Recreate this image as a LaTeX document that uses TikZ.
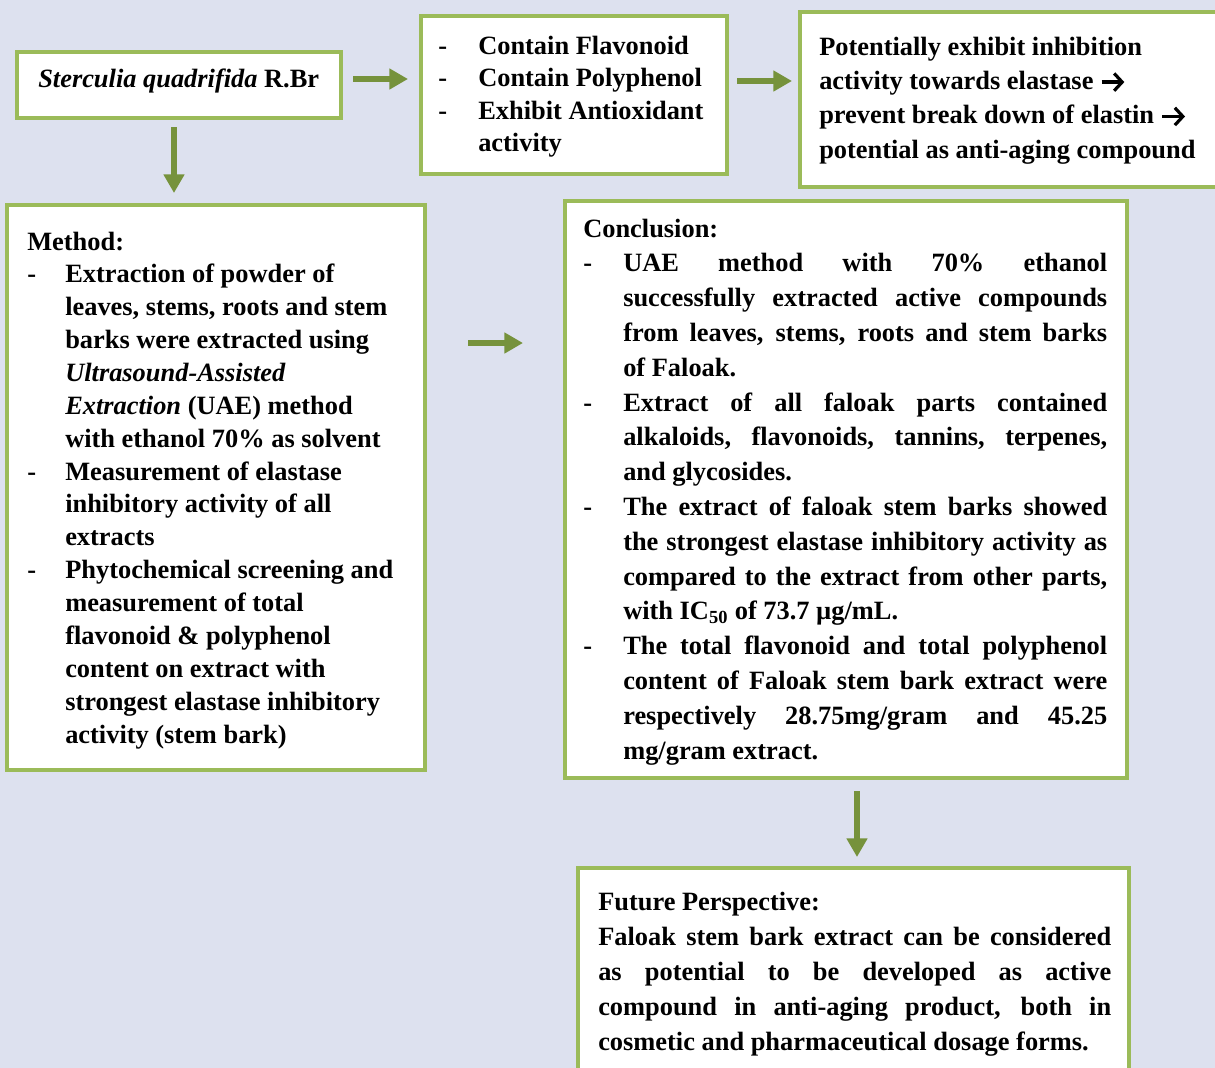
\documentclass[tikz,border=0pt]{standalone}
\usepackage{fontspec}
\setmainfont{Liberation Serif}
\usetikzlibrary{arrows.meta}
\definecolor{bgcol}{RGB}{221,225,239}
\definecolor{framecol}{RGB}{155,187,89}
\definecolor{arrowcol}{RGB}{118,146,60}
\newdimen\pxu \pxu=0.75pt
\newcommand\D{\makebox[40\pxu][l]{-}}
\newcommand\I{\hspace*{40\pxu}}
\newcommand\Jin[1]{\makebox[\dimexpr\linewidth-40\pxu\relax][s]{#1}}
\newcommand\Jfull[1]{\makebox[\linewidth][s]{#1}}
\newcommand\rar{\tikz[baseline=0pt,x=1pt,y=1pt]{\draw[line width=2.4pt,-{Straight Barb[length=6pt,width=13pt]}] (0,5.5) -- (17,5.5);}}
\begin{document}
\begin{tikzpicture}[x=0.75pt,y=-0.75pt,
  box/.style={draw=framecol, line width=3pt, fill=white, inner sep=0pt},
  txt/.style={inner sep=0pt, anchor=base west, font=\bfseries},
  arr/.style={draw=arrowcol, line width=4.5pt, -{Triangle[length=14pt,width=15pt]}}]
\clip (0,0) rectangle (1215,1068);
\fill[bgcol] (0,0) rectangle (1215,1068);

% boxes
\node[box, minimum width=324\pxu, minimum height=66\pxu] (b1) at (179,85) {};
\node[box, minimum width=306\pxu, minimum height=158\pxu] (b2) at (574,95) {};
\node[box, minimum width=435\pxu, minimum height=175\pxu] (b3) at (1017.5,99.5) {};
\node[box, minimum width=418\pxu, minimum height=565\pxu] (bm) at (216,487.5) {};
\node[box, minimum width=562\pxu, minimum height=577\pxu] (bc) at (846,489.5) {};
\node[box, minimum width=551\pxu, minimum height=222\pxu] (bf) at (853.5,979) {};

% texts
\node[txt] (t1) at (38,87) {\fontsize{19.8}{24}\selectfont\textit{Sterculia quadrifida} R.Br};

\node[txt] (t2) at (438,54) {\parbox[t]{290\pxu}{\fontsize{19.8}{24.45}\selectfont
\D Contain Flavonoid\\
\D Contain Polyphenol\\
\D Exhibit Antioxidant\\
\I activity}};

\node[txt] (t3) at (819,55) {\parbox[t]{400\pxu}{\fontsize{19.8}{25.8}\selectfont
Potentially exhibit inhibition\\
activity towards elastase \rar\\
prevent break down of elastin \rar\\
potential as anti-aging compound}};

\node[txt] (tm) at (27,250) {\parbox[t]{395\pxu}{\fontsize{19.8}{24.65}\selectfont
Method:\\
\makebox[38\pxu][l]{-}Extraction of powder of\\
\hspace*{38\pxu}leaves, stems, roots and stem\\
\hspace*{38\pxu}barks were extracted using\\
\hspace*{38\pxu}\textit{Ultrasound-Assisted}\\
\hspace*{38\pxu}\textit{Extraction} (UAE) method\\
\hspace*{38\pxu}with ethanol 70\% as solvent\\
\makebox[38\pxu][l]{-}Measurement of elastase\\
\hspace*{38\pxu}inhibitory activity of all\\
\hspace*{38\pxu}extracts\\
\makebox[38\pxu][l]{-}Phytochemical screening and\\
\hspace*{38\pxu}measurement of total\\
\hspace*{38\pxu}flavonoid \& polyphenol\\
\hspace*{38\pxu}content on extract with\\
\hspace*{38\pxu}strongest elastase inhibitory\\
\hspace*{38\pxu}activity (stem bark)}};

\node[txt] (tc) at (583,237) {\parbox[t]{524\pxu}{\fontsize{19.8}{26.1}\selectfont
Conclusion:\\
\D\Jin{UAE method with 70\% ethanol}\\
\I\Jin{successfully extracted active compounds}\\
\I\Jin{from leaves, stems, roots and stem barks}\\
\I of Faloak.\\
\D\Jin{Extract of all faloak parts contained}\\
\I\Jin{alkaloids, flavonoids, tannins, terpenes,}\\
\I and glycosides.\\
\D\Jin{The extract of faloak stem barks showed}\\
\I\Jin{the strongest elastase inhibitory activity as}\\
\I\Jin{compared to the extract from other parts,}\\
\I with IC\textsubscript{50} of 73.7 µg/mL.\\
\D\Jin{The total flavonoid and total polyphenol}\\
\I\Jin{content of Faloak stem bark extract were}\\
\I\Jin{respectively 28.75mg/gram and 45.25}\\
\I mg/gram extract.}};

\node[txt] (tf) at (598,910) {\parbox[t]{513\pxu}{\fontsize{19.8}{26.25}\selectfont
Future Perspective:\\
\Jfull{Faloak stem bark extract can be considered}\\
\Jfull{as potential to be developed as active}\\
\Jfull{compound in anti-aging product, both in}\\
cosmetic and pharmaceutical dosage forms.}};

% arrows
\coordinate (a1s) at (353,79);  \coordinate (a1e) at (408,79);
\coordinate (a2s) at (737,81);  \coordinate (a2e) at (792,81);
\coordinate (a3s) at (174,127); \coordinate (a3e) at (174,193);
\coordinate (a4s) at (468,343); \coordinate (a4e) at (523,343);
\coordinate (a5s) at (857,791); \coordinate (a5e) at (857,857);
\draw[arr] (a1s) -- (a1e);
\draw[arr] (a2s) -- (a2e);
\draw[arr] (a3s) -- (a3e);
\draw[arr] (a4s) -- (a4e);
\draw[arr] (a5s) -- (a5e);
\end{tikzpicture}
\end{document}
